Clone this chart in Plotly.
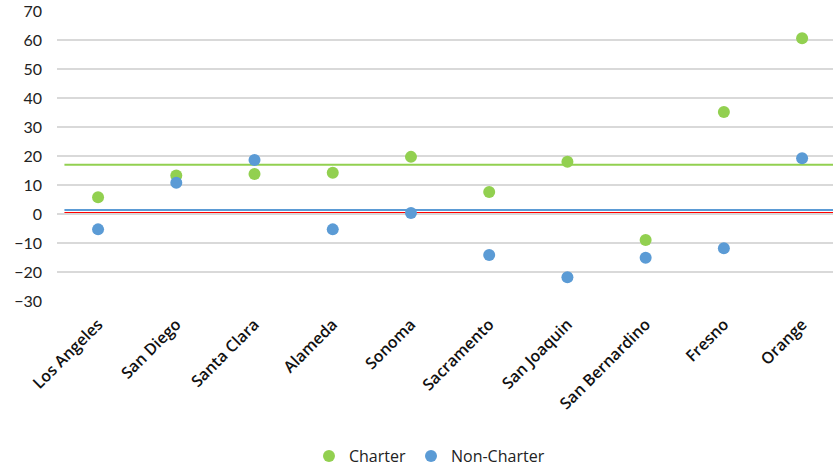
import plotly.graph_objects as go

counties = ["Los Angeles", "San Diego", "Santa Clara", "Alameda", "Sonoma",
            "Sacramento", "San Joaquin", "San Bernardino", "Fresno", "Orange"]
charter = [5.8, 13.3, 13.8, 14.2, 19.7, 7.6, 18.0, -9.0, 35.2, 60.6]
non_charter = [-5.3, 10.8, 18.6, -5.3, 0.35, -14.1, -21.8, -15.1, -11.8, 19.2]

charter_avg = 17.0
non_charter_avg = 1.4
baseline = 0.35

y_ticks = [-30, -20, -10, 0, 10, 20, 30, 40, 50, 60, 70]

GREEN = "#92d050"
BLUE = "#5b9bd5"
RED = "#ff0000"
FONT = "Open Sans"

xs = list(range(len(counties)))

fig = go.Figure()
fig.add_trace(go.Scatter(
    x=xs, y=charter, mode="markers", name="Charter",
    marker=dict(color=GREEN, size=12, line=dict(width=0)),
))
fig.add_trace(go.Scatter(
    x=xs, y=non_charter, mode="markers", name="Non-Charter",
    marker=dict(color=BLUE, size=12, line=dict(width=0)),
))

# reference lines for the two averages and the zero line
for yv, col in [(charter_avg, GREEN), (non_charter_avg, BLUE), (baseline, RED)]:
    fig.add_shape(type="line", xref="x", yref="y", x0=-0.43, x1=9.5, y0=yv, y1=yv,
                  line=dict(color=col, width=2), layer="below")

fig.update_layout(
    width=833, height=473,
    margin=dict(l=57, r=0, t=11, b=171),
    paper_bgcolor="white", plot_bgcolor="white",
    font=dict(family=FONT, size=15, color="#222222"),
    showlegend=True,
    legend=dict(orientation="h", x=0.48, xanchor="center", y=-0.533, yanchor="middle",
                font=dict(family=FONT, size=16, color="#222222"),
                itemsizing="constant", traceorder="normal", itemwidth=30),
    xaxis=dict(
        range=[-0.525, 9.395], tickmode="array", tickvals=xs, ticktext=counties,
        tickangle=-45, showgrid=False, zeroline=False, showline=False, ticks="",
        ticklabelstandoff=10,
        tickfont=dict(family=FONT, size=16, color="#111111", weight=600),
    ),
    yaxis=dict(
        range=[-30, 70], tickmode="array", tickvals=y_ticks,
        showgrid=True, gridcolor="#d9d9d9", gridwidth=2, zeroline=False,
        showline=False, ticks="", ticklabelstandoff=14,
        tickfont=dict(family="Lato", size=16, color="#222222"),
    ),
)

fig.write_html("out.html")
